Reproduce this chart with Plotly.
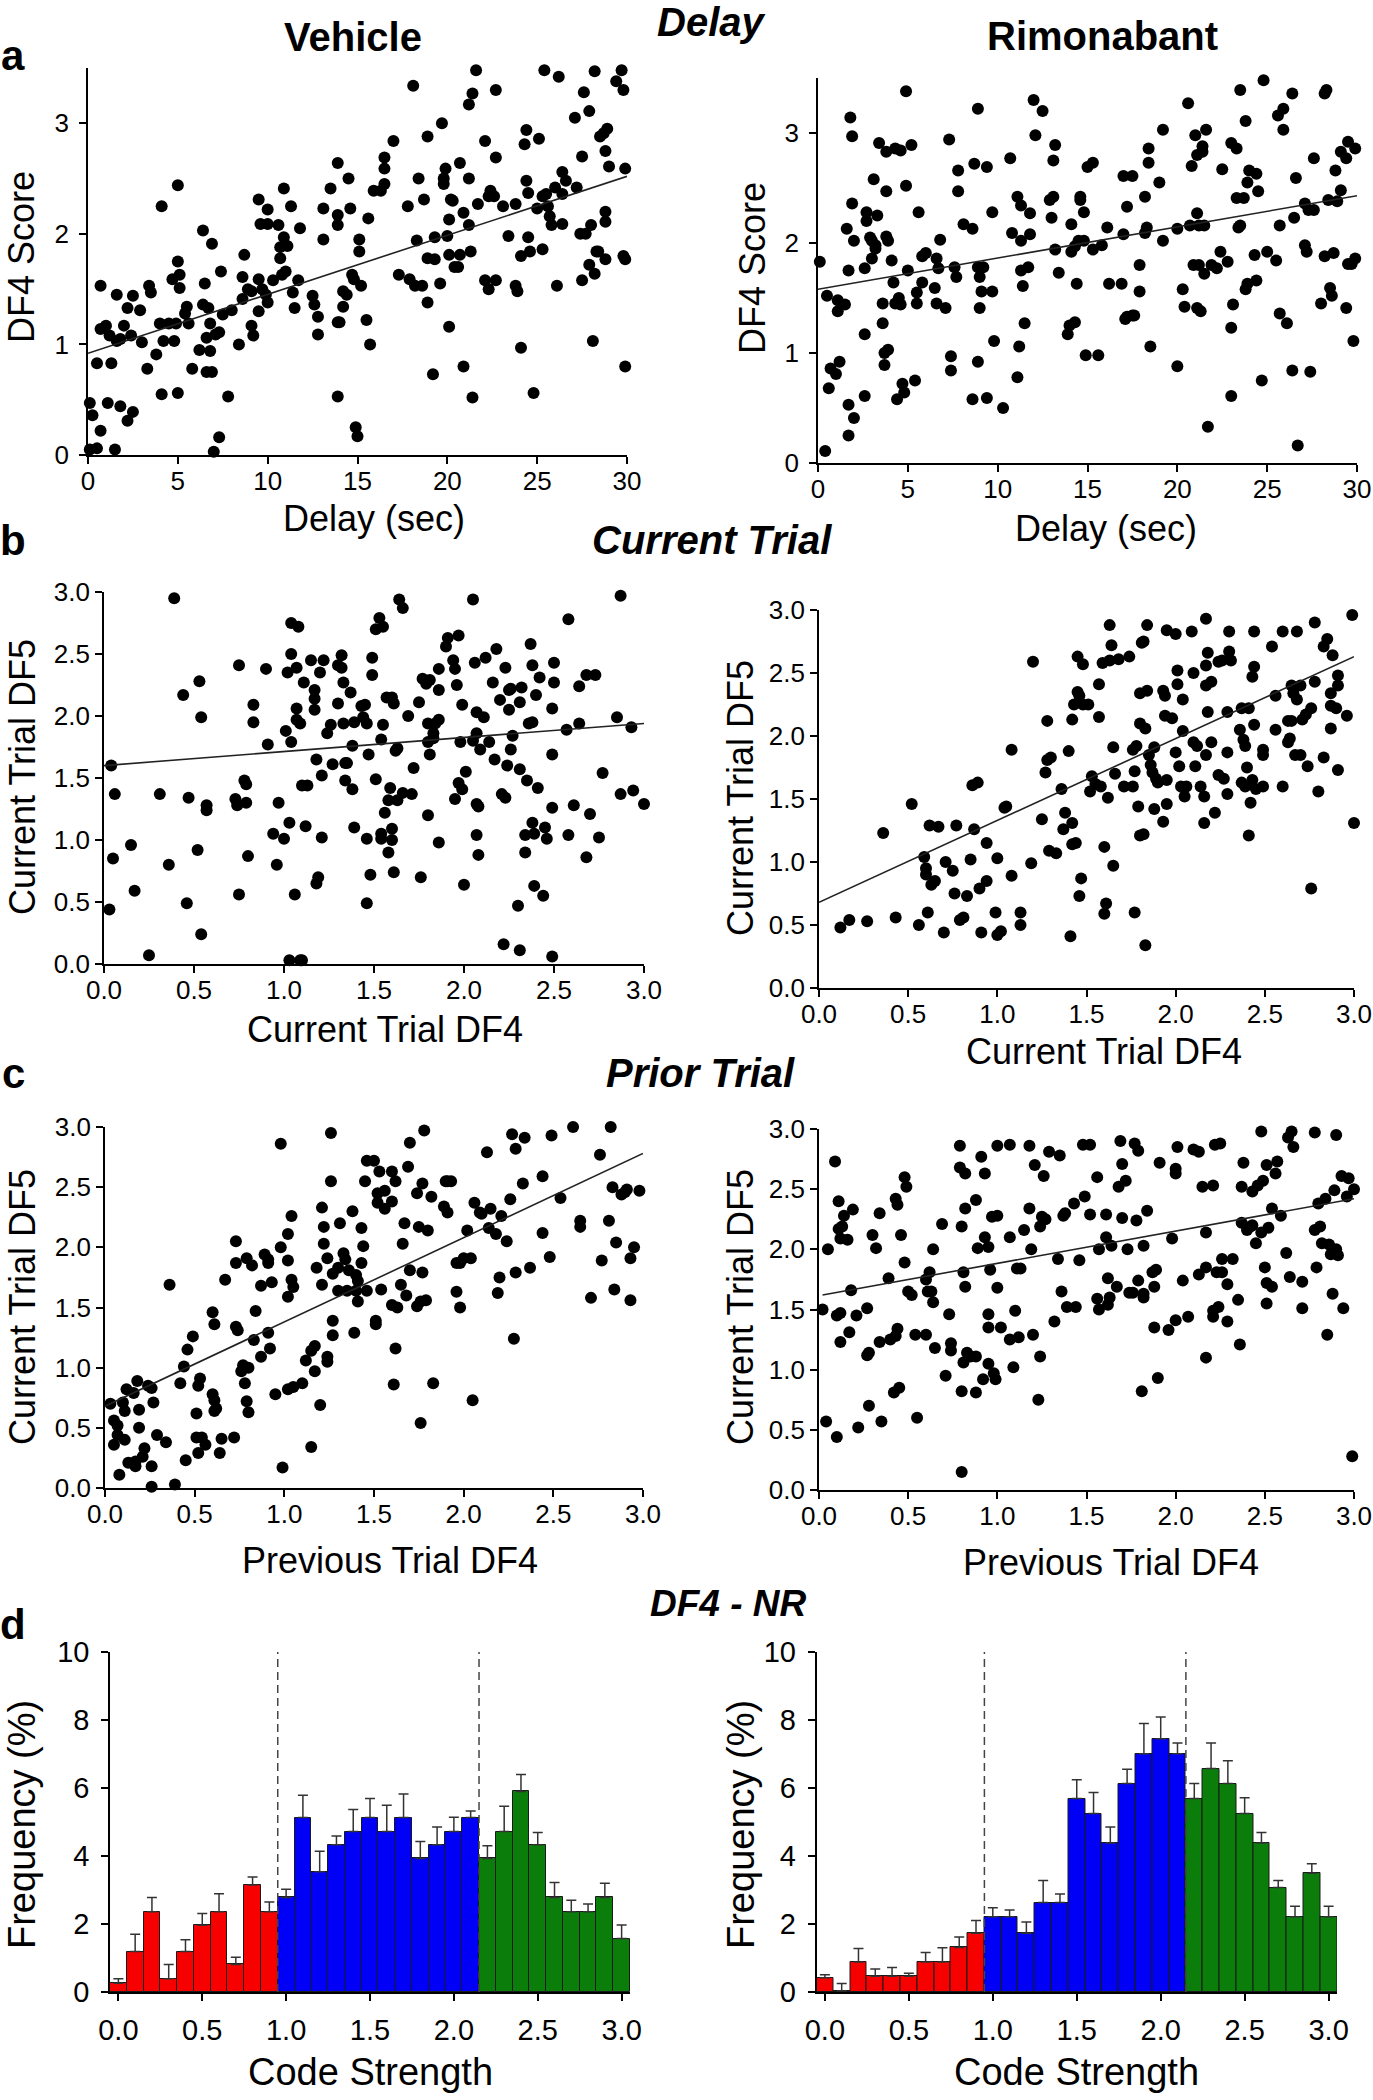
import plotly.graph_objects as go

# ---------------- data ----------------
a_vehicle = [(0.1,0.47),(0.25,0.36),(0.1,0.05),(0.5,0.06),(0.7,0.22),(0.5,0.83),(0.7,1.53),(0.7,1.14),(1.0,1.17),(1.1,0.47),(1.2,1.08),(1.3,0.83),(1.5,0.05),(1.6,1.45),(1.6,1.03),(1.8,1.05),(1.8,0.44),(2.0,1.17),(2.2,1.33),(2.2,0.31),(2.4,1.08),(2.5,1.44),(2.5,0.39),(2.9,1.31),(3.0,1.02),(3.3,0.78),(3.4,1.53),(3.5,1.47),(3.8,0.91),(4.0,1.19),(4.1,2.25),(4.1,0.55),(4.2,1.03),(4.5,1.19),(4.7,1.59),(4.8,1.03),(4.9,1.19),(5.0,2.44),(5.0,1.75),(5.0,0.56),(5.1,1.63),(5.1,1.51),(5.4,1.28),(5.5,1.34),(5.6,1.19),(5.8,0.78),(6.2,0.95),(6.4,2.03),(6.4,1.36),(6.5,1.55),(6.6,1.06),(6.6,0.75),(6.7,1.33),(6.8,1.19),(6.8,0.94),(6.9,1.91),(6.9,0.75),(7.0,0.03),(7.1,1.09),(7.3,1.11),(7.3,0.16),(7.4,1.66),(7.5,1.27),(7.8,0.53),(8.0,1.31),(8.4,1.0),(8.6,1.41),(8.6,1.61),(8.7,1.81),(8.9,1.5),(9.1,1.48),(9.1,1.17),(9.2,1.08),(9.5,2.31),(9.5,1.59),(9.5,1.30),(9.6,2.09),(9.7,1.5),(9.9,1.45),(10.0,2.22),(10.0,2.09),(10.0,1.38),(10.3,1.58),(10.6,2.08),(10.7,1.88),(10.7,1.78),(10.8,1.63),(10.9,2.41),(10.9,1.97),(11.0,1.66),(11.1,1.89),(11.3,2.25),(11.4,1.47),(11.5,1.33),(11.7,1.58),(11.8,2.05),(12.5,1.44),(12.6,1.36),(12.8,1.09),(12.8,1.25),(13.1,2.23),(13.1,1.95),(13.5,2.41),(13.9,2.64),(13.9,2.17),(13.9,2.08),(13.9,1.20),(13.9,0.53),(14.0,1.20),(14.2,1.34),(14.2,1.48),(14.4,1.45),(14.5,2.5),(14.6,2.23),(14.7,1.63),(14.8,1.59),(14.9,0.25),(15.0,0.17),(15.1,1.95),(15.1,1.84),(15.2,1.53),(15.5,1.22),(15.6,2.14),(15.7,1.0),(15.9,2.39),(16.3,2.39),(16.5,2.59),(16.5,2.69),(16.5,2.45),(17.0,2.84),(17.3,1.63),(17.8,2.25),(17.9,1.59),(18.1,3.34),(18.2,1.53),(18.3,1.94),(18.4,2.5),(18.6,1.53),(18.7,2.31),(18.9,2.88),(18.9,1.38),(18.9,1.78),(19.2,0.73),(19.3,1.77),(19.3,1.97),(19.6,1.55),(19.7,3.0),(19.8,2.5),(19.8,2.45),(19.9,2.59),(20.0,1.98),(20.1,1.81),(20.1,2.13),(20.1,1.16),(20.2,2.31),(20.3,2.30),(20.4,1.70),(20.6,1.70),(20.7,1.81),(20.7,2.64),(20.9,2.19),(20.9,0.80),(21.2,3.17),(21.2,2.5),(21.2,2.08),(21.3,1.84),(21.4,0.52),(21.4,3.27),(21.6,3.48),(21.7,2.27),(22.1,2.84),(22.1,1.58),(22.3,1.50),(22.3,2.34),(22.4,2.39),(22.6,2.34),(22.7,3.30),(22.7,2.69),(22.7,1.58),(23.1,2.25),(23.4,1.98),(23.8,2.27),(23.8,1.53),(23.9,1.48),(24.1,0.97),(24.1,1.80),(24.3,2.81),(24.4,2.48),(24.4,2.94),(24.5,2.37),(24.5,1.97),(24.6,1.84),(24.8,0.56),(25.0,2.23),(25.1,2.86),(25.3,2.34),(25.3,1.86),(25.4,3.48),(25.5,2.36),(25.6,2.25),(25.7,2.16),(25.8,2.08),(26.0,2.42),(26.1,1.53),(26.2,3.42),(26.4,2.56),(26.4,2.36),(26.4,2.09),(26.6,2.48),(27.1,3.05),(27.2,2.42),(27.4,2.0),(27.5,2.70),(27.5,1.58),(27.6,3.28),(27.7,2.0),(27.9,1.72),(27.9,3.11),(28.0,2.08),(28.1,1.03),(28.2,1.64),(28.2,3.47),(28.3,1.84),(28.4,1.84),(28.5,2.88),(28.7,2.91),(28.8,2.2),(28.8,2.11),(28.8,2.75),(28.8,1.77),(28.9,2.95),(29.0,2.61),(29.4,3.38),(29.7,3.48),(29.8,3.30),(29.8,1.80),(29.9,1.77),(29.9,2.59),(29.9,0.80)]

a_rimonabant = [(0.1,1.83),(0.4,0.11),(0.5,1.52),(0.6,0.68),(0.7,0.86),(1.0,0.81),(1.1,1.48),(1.1,1.38),(1.2,0.92),(1.5,1.44),(1.6,2.13),(1.7,1.75),(1.7,0.53),(1.7,0.25),(1.8,3.14),(1.9,2.36),(1.9,2.97),(2.0,0.41),(2.0,2.02),(2.6,1.17),(2.6,0.61),(2.6,1.77),(2.7,2.28),(2.7,2.2),(2.9,2.05),(3.0,2.02),(3.0,1.86),(3.1,2.58),(3.2,1.98),(3.2,1.95),(3.3,2.25),(3.4,2.91),(3.6,1.45),(3.6,1.27),(3.7,1.0),(3.7,0.89),(3.8,2.83),(3.8,2.06),(3.8,2.47),(3.9,2.02),(3.9,1.03),(4.1,1.84),(4.2,1.64),(4.3,2.86),(4.3,1.45),(4.4,0.58),(4.5,1.5),(4.6,2.84),(4.6,1.44),(4.7,0.72),(4.8,0.64),(4.9,3.38),(4.9,2.52),(5.0,1.75),(5.2,2.89),(5.4,0.75),(5.5,1.45),(5.5,1.55),(5.6,2.28),(5.8,1.64),(5.8,1.88),(6.0,1.91),(6.5,1.59),(6.6,1.86),(6.6,1.45),(6.7,1.77),(6.8,2.03),(7.1,1.41),(7.3,2.94),(7.4,0.97),(7.4,0.84),(7.6,1.78),(7.7,1.69),(7.8,2.47),(7.8,2.66),(8.1,2.17),(8.6,0.58),(8.6,2.13),(8.7,2.72),(8.9,1.78),(8.9,3.22),(8.9,0.92),(9.0,1.41),(9.0,1.69),(9.1,1.56),(9.2,1.78),(9.4,2.69),(9.4,0.59),(9.7,2.28),(9.7,1.56),(9.8,1.11),(10.3,0.5),(10.7,2.77),(10.8,2.09),(11.1,2.42),(11.1,0.78),(11.2,1.06),(11.3,2.34),(11.3,2.02),(11.3,1.75),(11.4,1.61),(11.5,1.27),(11.7,1.78),(11.8,2.27),(11.8,2.08),(12.0,3.30),(12.1,2.98),(12.5,3.2),(12.9,2.39),(13.0,2.23),(13.1,2.42),(13.1,2.75),(13.2,2.89),(13.2,1.94),(13.4,1.73),(13.9,1.17),(14.0,1.25),(14.1,2.17),(14.1,1.92),(14.3,1.97),(14.3,1.28),(14.4,1.63),(14.5,2.02),(14.6,2.39),(14.6,2.42),(14.8,2.28),(14.8,2.02),(14.9,0.98),(15.0,2.69),(15.3,2.73),(15.3,1.94),(15.6,0.98),(15.8,1.98),(16.1,2.14),(16.2,1.63),(16.9,1.63),(17.0,2.08),(17.0,2.61),(17.1,1.31),(17.2,1.33),(17.2,2.33),(17.5,1.34),(17.5,2.61),(17.6,1.34),(17.9,1.56),(17.9,1.80),(18.2,2.42),(18.2,2.09),(18.3,2.14),(18.4,2.73),(18.4,2.86),(18.5,1.06),(19.0,2.55),(19.2,3.03),(19.2,2.02),(20.0,0.88),(20.0,2.13),(20.3,1.58),(20.4,1.42),(20.6,3.27),(20.7,2.16),(20.8,2.70),(20.9,1.80),(21.0,2.98),(21.1,1.41),(21.1,2.80),(21.1,2.27),(21.2,2.16),(21.2,1.80),(21.3,1.38),(21.4,2.88),(21.4,2.83),(21.5,2.16),(21.5,1.72),(21.6,3.03),(21.7,0.33),(21.9,1.80),(22.2,1.77),(22.4,1.92),(22.5,2.67),(22.8,1.83),(23.0,0.61),(23.0,1.23),(23.0,2.91),(23.1,1.44),(23.3,2.86),(23.3,2.41),(23.4,2.14),(23.5,2.16),(23.5,3.39),(23.7,2.41),(23.8,1.58),(23.8,3.11),(23.9,1.63),(23.9,2.55),(24.0,2.66),(24.3,1.89),(24.4,2.63),(24.4,1.66),(24.5,2.47),(24.7,0.75),(24.8,3.48),(25.0,1.92),(25.5,1.84),(25.6,3.16),(25.7,1.36),(25.7,2.16),(25.9,3.22),(25.9,3.03),(26.1,1.27),(26.4,0.84),(26.4,3.36),(26.5,2.23),(26.6,2.59),(26.7,0.16),(27.1,2.36),(27.1,1.98),(27.2,1.92),(27.3,2.30),(27.4,0.83),(27.6,2.30),(27.6,2.77),(28.0,1.45),(28.2,1.88),(28.2,3.36),(28.3,3.39),(28.4,2.39),(28.5,1.59),(28.6,1.52),(28.7,1.91),(28.8,2.66),(28.9,2.38),(29.1,2.48),(29.1,2.83),(29.4,2.77),(29.4,1.41),(29.5,2.92),(29.5,1.81),(29.7,1.81),(29.8,1.11),(29.9,2.86),(29.9,1.86)]

b_vehicle = [(0.03,0.44),(0.04,1.60),(0.05,0.85),(0.06,1.37),(0.15,0.96),(0.17,0.59),(0.25,0.07),(0.31,1.37),(0.36,0.80),(0.39,2.95),(0.44,2.17),(0.46,0.49),(0.47,1.34),(0.52,0.92),(0.53,2.28),(0.54,1.99),(0.54,0.24),(0.57,1.28),(0.57,1.24),(0.73,1.33),(0.74,1.28),(0.75,0.56),(0.75,2.41),(0.78,1.48),(0.79,1.45),(0.79,1.30),(0.80,0.87),(0.83,1.95),(0.83,2.09),(0.90,2.38),(0.91,1.77),(0.94,1.05),(0.96,0.80),(0.97,1.30),(1.00,1.01),(1.01,1.88),(1.02,2.35),(1.03,1.14),(1.03,0.03),(1.04,2.50),(1.04,1.79),(1.04,2.75),(1.06,0.56),(1.07,2.06),(1.07,2.39),(1.07,1.97),(1.08,2.72),(1.09,0.03),(1.09,1.94),(1.10,0.03),(1.10,1.44),(1.11,2.27),(1.12,1.11),(1.13,1.44),(1.15,2.45),(1.17,2.21),(1.17,2.14),(1.17,2.05),(1.18,1.65),(1.18,0.65),(1.19,0.70),(1.20,2.35),(1.21,1.52),(1.21,1.02),(1.22,2.45),(1.24,1.86),(1.26,1.93),(1.27,1.61),(1.30,2.41),(1.30,2.10),(1.32,2.49),(1.32,2.39),(1.33,2.27),(1.33,1.94),(1.34,1.62),(1.34,1.48),(1.35,1.62),(1.37,2.19),(1.38,1.41),(1.38,1.76),(1.39,1.95),(1.39,1.10),(1.43,2.08),(1.44,1.99),(1.45,2.09),(1.46,1.01),(1.46,0.49),(1.46,1.94),(1.47,1.69),(1.48,0.72),(1.49,2.47),(1.49,2.33),(1.51,1.49),(1.51,2.70),(1.53,2.79),(1.54,1.05),(1.54,1.01),(1.54,1.81),(1.55,1.93),(1.55,2.72),(1.56,1.22),(1.57,2.15),(1.58,1.32),(1.58,0.90),(1.59,1.42),(1.60,1.09),(1.60,1.00),(1.60,2.15),(1.61,0.74),(1.61,2.10),(1.62,1.72),(1.63,1.32),(1.63,1.74),(1.64,2.94),(1.66,2.87),(1.66,1.38),(1.69,2.00),(1.71,1.37),(1.72,1.58),(1.75,2.11),(1.76,0.70),(1.77,2.30),(1.79,2.26),(1.80,1.79),(1.80,1.20),(1.80,1.94),(1.81,1.69),(1.81,2.29),(1.83,1.82),(1.83,1.86),(1.84,1.94),(1.86,2.38),(1.86,2.21),(1.86,0.98),(1.86,1.97),(1.90,2.56),(1.91,2.63),(1.94,2.45),(1.95,1.33),(1.95,2.38),(1.96,2.25),(1.97,2.65),(1.97,1.46),(1.98,1.79),(1.99,1.41),(1.99,2.09),(2.00,0.64),(2.01,1.55),(2.05,2.94),(2.05,1.80),(2.06,2.43),(2.07,2.03),(2.07,1.86),(2.07,1.29),(2.08,0.88),(2.08,1.27),(2.07,1.04),(2.09,1.73),(2.11,1.99),(2.12,2.47),(2.14,1.79),(2.16,2.27),(2.17,1.65),(2.18,2.54),(2.20,2.13),(2.21,1.37),(2.22,0.16),(2.23,1.34),(2.23,2.39),(2.24,1.60),(2.25,2.21),(2.25,2.05),(2.26,2.22),(2.26,1.73),(2.27,1.84),(2.30,0.47),(2.31,2.11),(2.31,0.11),(2.31,1.57),(2.32,2.23),(2.34,0.90),(2.34,1.04),(2.35,1.48),(2.36,1.94),(2.37,2.58),(2.38,1.14),(2.38,2.41),(2.38,1.95),(2.39,0.63),(2.39,1.05),(2.40,2.17),(2.41,1.42),(2.42,2.31),(2.44,0.55),(2.45,1.10),(2.46,1.01),(2.49,2.06),(2.49,1.69),(2.49,0.06),(2.49,1.26),(2.50,2.27),(2.50,2.43),(2.57,1.89),(2.58,2.78),(2.58,1.04),(2.61,1.28),(2.64,1.94),(2.64,2.24),(2.68,0.86),(2.68,2.33),(2.70,1.21),(2.73,2.33),(2.75,1.02),(2.77,1.54),(2.85,1.99),(2.87,2.97),(2.87,1.37),(2.93,1.91),(2.94,1.40),(3.00,1.29)]

b_rimonabant = [(0.12,0.48),(0.17,0.54),(0.27,0.53),(0.36,1.23),(0.43,0.56),(0.52,1.46),(0.56,0.50),(0.59,1.04),(0.60,0.90),(0.60,0.95),(0.61,0.60),(0.62,1.29),(0.63,0.82),(0.65,0.85),(0.67,1.28),(0.70,0.44),(0.71,1.00),(0.75,0.93),(0.76,0.75),(0.77,1.29),(0.79,0.54),(0.81,0.56),(0.83,0.73),(0.85,1.02),(0.86,1.61),(0.87,1.26),(0.89,1.63),(0.90,0.79),(0.91,0.44),(0.94,0.85),(0.94,1.15),(0.99,0.60),(1.00,1.03),(1.00,0.42),(1.02,0.45),(1.04,1.43),(1.05,1.44),(1.08,1.89),(1.08,0.89),(1.13,0.60),(1.13,0.50),(1.19,0.99),(1.20,2.59),(1.25,1.34),(1.27,1.71),(1.28,1.81),(1.28,2.12),(1.29,1.09),(1.30,1.83),(1.33,1.07),(1.36,1.58),(1.37,1.26),(1.38,1.39),(1.40,1.88),(1.41,0.41),(1.42,1.31),(1.42,1.14),(1.42,2.13),(1.43,2.25),(1.44,1.15),(1.45,2.35),(1.45,2.63),(1.46,0.73),(1.46,2.32),(1.47,0.87),(1.48,2.57),(1.48,2.25),(1.51,2.25),(1.52,1.56),(1.53,1.68),(1.55,1.62),(1.57,2.41),(1.57,2.15),(1.58,1.60),(1.59,2.58),(1.60,0.59),(1.60,1.12),(1.61,0.67),(1.62,1.51),(1.63,2.88),(1.63,2.60),(1.64,2.72),(1.65,1.91),(1.65,0.97),(1.66,1.70),(1.68,2.61),(1.71,1.60),(1.74,2.63),(1.76,1.89),(1.76,1.60),(1.77,0.60),(1.77,1.72),(1.78,1.92),(1.79,1.44),(1.80,2.34),(1.80,2.10),(1.80,1.21),(1.81,2.74),(1.82,2.75),(1.82,1.22),(1.83,0.34),(1.83,2.06),(1.84,2.88),(1.84,2.36),(1.85,1.85),(1.86,1.77),(1.87,1.71),(1.88,1.91),(1.88,1.42),(1.89,1.66),(1.90,1.63),(1.93,1.32),(1.93,2.36),(1.94,2.32),(1.94,2.16),(1.95,2.84),(1.95,1.46),(1.95,1.65),(1.98,2.14),(2.00,2.81),(2.00,1.87),(2.01,2.52),(2.01,2.41),(2.02,1.76),(2.03,1.60),(2.04,2.29),(2.04,2.04),(2.05,1.52),(2.06,1.60),(2.09,2.83),(2.10,1.95),(2.10,2.50),(2.11,1.76),(2.12,1.92),(2.14,1.60),(2.16,1.31),(2.16,1.52),(2.17,2.93),(2.17,1.85),(2.17,2.56),(2.17,2.40),(2.18,2.66),(2.18,2.19),(2.20,2.43),(2.20,1.95),(2.22,1.39),(2.24,1.69),(2.24,2.59),(2.26,2.60),(2.27,1.66),(2.29,2.19),(2.29,1.54),(2.29,1.87),(2.30,2.83),(2.30,2.67),(2.31,2.60),(2.36,2.05),(2.37,1.63),(2.37,2.22),(2.38,1.97),(2.39,1.60),(2.39,1.92),(2.40,1.75),(2.41,2.22),(2.41,1.21),(2.42,1.47),(2.43,1.65),(2.43,2.47),(2.44,2.55),(2.44,2.09),(2.44,2.83),(2.45,1.58),(2.49,1.89),(2.49,1.85),(2.49,1.60),(2.54,2.71),(2.56,2.32),(2.56,2.05),(2.60,2.83),(2.60,1.60),(2.63,1.95),(2.63,2.12),(2.64,1.98),(2.65,2.12),(2.65,2.40),(2.66,2.34),(2.67,1.85),(2.68,2.83),(2.68,2.29),(2.70,1.85),(2.70,2.40),(2.71,2.13),(2.73,2.17),(2.74,1.76),(2.76,0.79),(2.76,2.22),(2.78,2.43),(2.78,2.90),(2.80,1.56),(2.83,2.71),(2.83,1.83),(2.85,2.77),(2.87,2.34),(2.87,2.06),(2.87,2.24),(2.88,2.64),(2.90,2.22),(2.91,2.48),(2.91,1.73),(2.91,2.40),(2.96,2.16),(2.99,2.96),(3.00,1.31)]

c_vehicle = [(0.03,0.70),(0.05,0.56),(0.05,0.36),(0.07,0.52),(0.07,0.44),(0.08,0.11),(0.10,0.71),(0.11,0.64),(0.11,0.40),(0.12,0.82),(0.13,0.21),(0.16,0.79),(0.17,0.22),(0.17,0.18),(0.18,0.89),(0.19,0.65),(0.19,0.50),(0.21,0.26),(0.22,0.33),(0.24,0.85),(0.26,0.83),(0.26,0.18),(0.26,0.01),(0.27,0.71),(0.29,0.44),(0.34,0.38),(0.36,1.69),(0.39,0.03),(0.42,0.87),(0.44,1.01),(0.45,0.23),(0.46,1.15),(0.49,1.26),(0.51,0.42),(0.51,0.62),(0.52,0.85),(0.52,0.29),(0.53,0.91),(0.54,0.42),(0.56,0.36),(0.60,1.46),(0.60,0.78),(0.61,0.73),(0.61,1.36),(0.61,0.64),(0.62,0.66),(0.64,0.29),(0.65,0.41),(0.67,1.73),(0.72,0.42),(0.73,2.05),(0.73,1.87),(0.73,1.34),(0.74,1.31),(0.76,0.97),(0.77,1.02),(0.78,0.87),(0.79,1.91),(0.79,0.72),(0.80,1.00),(0.80,0.63),(0.82,1.85),(0.83,1.23),(0.84,1.47),(0.87,1.68),(0.87,1.09),(0.89,1.94),(0.91,1.87),(0.91,1.90),(0.91,1.29),(0.92,1.16),(0.93,1.71),(0.95,0.78),(0.98,2.00),(0.98,2.86),(0.99,0.17),(1.02,0.82),(1.02,1.59),(1.02,1.89),(1.02,2.11),(1.04,1.73),(1.04,2.26),(1.05,1.67),(1.05,0.84),(1.10,0.87),(1.12,1.06),(1.15,0.34),(1.15,1.14),(1.17,0.97),(1.17,1.18),(1.18,1.83),(1.20,0.69),(1.21,1.69),(1.21,2.33),(1.22,2.17),(1.22,2.03),(1.24,1.05),(1.24,1.91),(1.24,1.09),(1.26,2.95),(1.26,2.55),(1.27,1.27),(1.27,1.39),(1.27,1.78),(1.30,1.83),(1.30,1.64),(1.31,2.20),(1.33,1.95),(1.34,1.90),(1.35,1.64),(1.36,1.81),(1.38,2.30),(1.39,1.29),(1.40,1.77),(1.40,1.64),(1.41,1.55),(1.41,1.72),(1.43,2.16),(1.43,1.87),(1.44,2.01),(1.45,2.55),(1.46,2.72),(1.46,1.64),(1.50,2.72),(1.51,1.36),(1.51,1.39),(1.52,2.45),(1.52,2.37),(1.53,2.63),(1.54,1.65),(1.56,2.47),(1.56,2.32),(1.60,2.63),(1.60,1.52),(1.60,2.38),(1.61,0.86),(1.62,1.16),(1.62,2.55),(1.63,1.50),(1.65,1.69),(1.66,2.03),(1.67,2.20),(1.68,1.60),(1.69,2.67),(1.70,2.87),(1.70,1.81),(1.74,2.45),(1.74,1.51),(1.75,2.17),(1.76,0.54),(1.76,1.55),(1.77,2.53),(1.77,1.79),(1.78,2.97),(1.79,1.56),(1.80,2.14),(1.82,2.42),(1.83,0.87),(1.89,2.34),(1.90,2.55),(1.91,2.29),(1.91,2.55),(1.93,2.55),(1.96,1.87),(1.96,1.63),(1.98,1.87),(1.98,1.50),(2.00,1.91),(2.02,2.14),(2.04,1.91),(2.05,0.73),(2.06,2.37),(2.09,2.29),(2.10,2.28),(2.13,2.79),(2.14,2.16),(2.15,2.32),(2.18,2.11),(2.19,1.62),(2.20,1.75),(2.21,2.26),(2.24,2.05),(2.26,2.40),(2.27,2.94),(2.28,1.24),(2.29,1.79),(2.29,2.82),(2.33,2.53),(2.34,2.91),(2.37,1.83),(2.44,2.12),(2.44,2.59),(2.48,1.92),(2.49,2.93),(2.54,2.41),(2.61,3.00),(2.65,2.22),(2.65,2.17),(2.71,1.58),(2.76,2.77),(2.77,1.89),(2.81,2.22),(2.82,3.00),(2.83,2.50),(2.84,1.65),(2.85,2.04),(2.88,2.44),(2.90,2.46),(2.91,2.48),(2.93,1.91),(2.93,1.56),(2.95,2.00),(2.98,2.47)]

c_rimonabant = [(0.02,1.50),(0.04,0.57),(0.05,2.00),(0.09,2.73),(0.10,1.45),(0.10,0.44),(0.11,2.40),(0.11,2.17),(0.12,1.23),(0.12,1.47),(0.12,2.09),(0.13,2.19),(0.14,2.28),(0.16,2.08),(0.17,1.31),(0.18,1.66),(0.19,2.33),(0.21,1.45),(0.22,0.52),(0.27,1.51),(0.27,1.12),(0.28,1.14),(0.28,0.70),(0.30,2.12),(0.32,2.01),(0.34,1.23),(0.34,2.30),(0.35,0.57),(0.39,1.76),(0.40,1.25),(0.42,0.81),(0.43,1.28),(0.43,2.42),(0.44,2.37),(0.44,1.34),(0.45,0.85),(0.46,2.12),(0.48,1.89),(0.48,2.60),(0.49,2.52),(0.50,1.65),(0.52,1.62),(0.54,1.29),(0.55,0.60),(0.60,1.75),(0.60,1.29),(0.61,1.65),(0.62,1.81),(0.63,1.65),(0.64,2.00),(0.64,1.56),(0.65,1.18),(0.69,2.21),(0.71,0.95),(0.73,1.46),(0.74,1.22),(0.74,1.16),(0.79,2.86),(0.79,2.68),(0.80,2.19),(0.80,0.82),(0.80,0.15),(0.81,1.81),(0.81,1.06),(0.82,2.63),(0.82,2.34),(0.82,1.69),(0.83,1.14),(0.85,1.11),(0.88,2.41),(0.88,0.81),(0.88,1.11),(0.89,2.01),(0.91,2.77),(0.92,0.92),(0.93,2.10),(0.93,2.63),(0.95,2.02),(0.95,1.05),(0.95,1.46),(0.95,1.35),(0.96,1.83),(0.97,2.27),(0.98,0.97),(0.99,0.92),(1.00,2.86),(1.00,1.68),(1.00,2.28),(1.02,1.35),(1.07,2.87),(1.07,2.10),(1.07,1.25),(1.09,1.02),(1.10,1.49),(1.11,1.84),(1.12,1.27),(1.13,1.84),(1.15,2.16),(1.18,2.86),(1.18,2.34),(1.19,2.00),(1.20,1.29),(1.21,2.70),(1.23,0.75),(1.24,2.19),(1.24,1.11),(1.25,2.27),(1.26,2.61),(1.27,2.25),(1.29,2.81),(1.32,1.40),(1.34,1.92),(1.35,2.78),(1.36,1.65),(1.37,2.28),(1.38,2.30),(1.39,1.52),(1.43,2.38),(1.44,1.52),(1.46,1.91),(1.48,2.87),(1.49,2.44),(1.52,2.87),(1.52,2.29),(1.56,2.60),(1.56,1.59),(1.57,1.50),(1.57,2.00),(1.61,2.29),(1.61,2.10),(1.62,1.76),(1.62,1.54),(1.63,1.60),(1.64,2.03),(1.67,1.69),(1.68,2.52),(1.69,2.90),(1.70,2.71),(1.70,2.26),(1.72,2.57),(1.73,2.00),(1.74,1.64),(1.76,1.64),(1.77,2.88),(1.78,2.24),(1.79,1.74),(1.79,2.82),(1.81,0.82),(1.82,1.60),(1.82,1.63),(1.82,2.03),(1.84,2.32),(1.87,1.81),(1.88,1.35),(1.88,1.69),(1.89,1.83),(1.90,0.93),(1.91,2.72),(1.96,1.33),(1.98,2.09),(2.00,2.67),(2.00,2.63),(2.00,1.41),(2.01,2.85),(2.04,1.74),(2.07,1.44),(2.10,2.83),(2.13,2.81),(2.13,1.79),(2.15,2.52),(2.17,1.85),(2.17,2.14),(2.17,1.10),(2.21,2.53),(2.21,1.49),(2.21,1.44),(2.22,2.87),(2.23,1.81),(2.24,1.52),(2.25,2.88),(2.26,1.81),(2.26,1.92),(2.29,1.71),(2.29,1.40),(2.32,1.92),(2.35,1.58),(2.36,1.21),(2.37,2.52),(2.37,2.22),(2.38,2.72),(2.40,2.16),(2.42,2.19),(2.43,2.48),(2.43,2.20),(2.45,2.05),(2.46,2.53),(2.48,2.98),(2.48,2.14),(2.49,2.57),(2.50,1.85),(2.51,2.70),(2.51,1.72),(2.51,1.55),(2.52,2.18),(2.54,2.34),(2.54,1.69),(2.56,2.63),(2.57,2.73),(2.59,2.28),(2.62,1.97),(2.63,2.93),(2.64,1.77),(2.65,2.98),(2.66,2.85),(2.71,1.73),(2.71,1.51),(2.78,2.16),(2.78,2.97),(2.79,1.85),(2.80,2.38),(2.81,2.19),(2.82,2.05),(2.84,2.42),(2.85,1.29),(2.86,2.04),(2.87,1.96),(2.88,1.63),(2.89,2.49),(2.90,2.00),(2.90,2.95),(2.91,1.95),(2.93,2.61),(2.94,1.51),(2.96,2.44),(2.97,2.59),(2.99,0.28),(3.00,2.50)]

# regression lines: (x_start, y_start, x_end, y_end)
fit_a_vehicle = (0.0, 0.92, 30.0, 2.52)
fit_a_rimonabant = (0.0, 1.58, 30.0, 2.43)
fit_b_vehicle = (0.0, 1.60, 3.0, 1.94)
fit_b_rimonabant = (0.0, 0.68, 3.0, 2.63)
fit_c_vehicle = (0.0, 0.68, 3.0, 2.78)
fit_c_rimonabant = (0.02, 1.62, 3.0, 2.42)

# histograms
code_bins = [0.0,0.1,0.2,0.3,0.4,0.5,0.6,0.7,0.8,0.9,1.0,1.1,1.2,1.3,1.4,1.5,1.6,1.7,1.8,1.9,2.0,2.1,2.2,2.3,2.4,2.5,2.6,2.7,2.8,2.9,3.0]
bin_group = ["low"]*10 + ["mid"]*12 + ["high"]*9
veh_freq = [0.26,1.19,2.36,0.39,1.19,1.96,2.36,0.81,3.15,2.36,2.78,5.13,3.54,4.33,4.72,5.13,4.72,5.13,3.93,4.33,4.72,5.13,3.93,4.72,5.90,4.33,2.78,2.36,2.36,2.78,1.57]
veh_err = [0.13,0.51,0.42,0.42,0.35,0.35,0.53,0.21,0.23,0.29,0.24,0.66,0.60,0.26,0.65,0.56,0.77,0.69,0.50,0.52,0.42,0.19,0.37,0.74,0.50,0.36,0.44,0.34,0.23,0.42,0.40]
rim_freq = [0.42,0.04,0.88,0.46,0.46,0.46,0.88,0.88,1.31,1.73,2.21,2.21,1.73,2.63,2.63,5.69,5.25,4.38,6.13,7.01,7.45,7.01,5.69,6.57,6.13,5.25,4.38,3.07,2.21,3.49,2.21]
rim_err = [0.09,0.21,0.40,0.22,0.26,0.09,0.28,0.42,0.31,0.37,0.27,0.20,0.33,0.65,0.25,0.55,0.62,0.47,0.42,0.89,0.64,0.31,0.44,0.75,0.67,0.46,0.31,0.21,0.31,0.28,0.31]
veh_bounds = [0.95, 2.15]
rim_bounds = [0.95, 2.15]

group_colors = {"low": "#f60000", "mid": "#0000f6", "high": "#0b7d0b"}

# ---------------- layout helpers ----------------
W, H = 1373, 2100
FONT = "Liberation Sans, Arial, sans-serif"

def dx(a, b):
    return [a / W, b / W]

def dy(top, bottom):
    return [1 - bottom / H, 1 - top / H]

def px(x):
    return x / W

def py(y):
    return 1 - y / H

fig = go.Figure()

panels = [
    (a_vehicle, fit_a_vehicle, (88, 627), (68, 455), [0, 30], [0, 3.5], [0, 5, 10, 15, 20, 25, 30], [0, 1, 2, 3], "d"),
    (a_rimonabant, fit_a_rimonabant, (818, 1357), (78, 463), [0, 30], [0, 3.5], [0, 5, 10, 15, 20, 25, 30], [0, 1, 2, 3], "d"),
    (b_vehicle, fit_b_vehicle, (104, 644), (592, 964), [0, 3], [0, 3], [0, 0.5, 1, 1.5, 2, 2.5, 3], [0, 0.5, 1, 1.5, 2, 2.5, 3], ".1f"),
    (b_rimonabant, fit_b_rimonabant, (819, 1354), (610, 988), [0, 3], [0, 3], [0, 0.5, 1, 1.5, 2, 2.5, 3], [0, 0.5, 1, 1.5, 2, 2.5, 3], ".1f"),
    (c_vehicle, fit_c_vehicle, (105, 643), (1127, 1488), [0, 3], [0, 3], [0, 0.5, 1, 1.5, 2, 2.5, 3], [0, 0.5, 1, 1.5, 2, 2.5, 3], ".1f"),
    (c_rimonabant, fit_c_rimonabant, (819, 1354), (1129, 1490), [0, 3], [0, 3], [0, 0.5, 1, 1.5, 2, 2.5, 3], [0, 0.5, 1, 1.5, 2, 2.5, 3], ".1f"),
]

axis_common = dict(
    showline=True, linecolor="black", linewidth=1.6,
    ticks="outside", ticklen=7, tickwidth=1.6, tickcolor="black",
    showgrid=False, zeroline=False, automargin=False,
    ticklabeloverflow="allow",
    tickfont=dict(family=FONT, size=26, color="black"),
)

layout_axes = {}
for i, (pts, fit, xd, ydm, xr, yr, xt, yt, fmt) in enumerate(panels, start=1):
    xs = [p[0] for p in pts]
    ys = [p[1] for p in pts]
    xa = "x" if i == 1 else f"x{i}"
    ya = "y" if i == 1 else f"y{i}"
    fig.add_trace(go.Scatter(
        x=xs, y=ys, mode="markers", xaxis=xa, yaxis=ya,
        marker=dict(color="black", size=12, line=dict(width=0)),
        cliponaxis=False, showlegend=False,
    ))
    fig.add_trace(go.Scatter(
        x=[fit[0], fit[2]], y=[fit[1], fit[3]], mode="lines", xaxis=xa, yaxis=ya,
        line=dict(color="#222222", width=1.6), showlegend=False, cliponaxis=False,
    ))
    xkey = "xaxis" if i == 1 else f"xaxis{i}"
    ykey = "yaxis" if i == 1 else f"yaxis{i}"
    layout_axes[xkey] = dict(axis_common, domain=dx(*xd), range=xr, anchor=ya,
                             tickvals=xt, tickformat=fmt, ticklabelstandoff=-5)
    layout_axes[ykey] = dict(axis_common, domain=dy(*ydm), range=yr, anchor=xa,
                             tickvals=yt, tickformat=fmt,
                             ticklabelstandoff=5 if fmt == "d" else 0)

# histograms
hists = [
    (veh_freq, veh_err, veh_bounds, (110, 630), 7),
    (rim_freq, rim_err, rim_bounds, (816.5, 1337), 8),
]
hist_tickfont = dict(family=FONT, size=29, color="black")
for freq, err, bounds, xd, i in hists:
    xa, ya = f"x{i}", f"y{i}"
    fig.add_trace(go.Bar(
        x=code_bins, y=freq, width=0.1, xaxis=xa, yaxis=ya,
        marker=dict(color=[group_colors[g] for g in bin_group],
                    line=dict(color="#1a1a1a", width=1)),
        error_y=dict(type="data", symmetric=False, array=err,
                     arrayminus=[0] * len(err), color="#333333",
                     thickness=1.5, width=5),
        showlegend=False,
    ))
    for b in bounds:
        fig.add_shape(type="line", xref=xa, yref=ya, x0=b, x1=b, y0=0, y1=10,
                      line=dict(color="#444444", width=1.5, dash="8px,5px"))
    layout_axes[f"xaxis{i}"] = dict(axis_common, domain=dx(*xd), range=[-0.05, 3.05], anchor=ya,
                                    tickvals=[0, 0.5, 1, 1.5, 2, 2.5, 3], tickformat=".1f",
                                    ticklabelstandoff=4, tickfont=hist_tickfont)
    layout_axes[f"yaxis{i}"] = dict(axis_common, domain=dy(1652, 1992), range=[0, 10], anchor=xa,
                                    tickvals=[0, 2, 4, 6, 8, 10], tickformat="d",
                                    ticklabelstandoff=6, tickfont=hist_tickfont)

# ---------------- text ----------------
ann = []

def text(x, y, s, size=36, angle=0):
    ann.append(dict(x=px(x), y=py(y), xref="paper", yref="paper", text=s,
                    showarrow=False, xanchor="center", yanchor="middle",
                    textangle=angle, font=dict(family=FONT, size=size, color="black")))

text(353, 37, "<b>Vehicle</b>", 40)
text(1102, 36, "<b>Rimonabant</b>", 40)
text(711, 22, "<b><i>Delay</i></b>", 40)
text(712, 540, "<b><i>Current Trial</i></b>", 40)
text(700, 1073, "<b><i>Prior Trial</i></b>", 40)
text(728, 1603, "<b><i>DF4 - NR</i></b>", 37)
text(13, 56, "<b>a</b>", 42)
text(13, 540, "<b>b</b>", 42)
text(13, 1073, "<b>c</b>", 42)
text(13, 1624, "<b>d</b>", 42)
text(374, 518, "Delay (sec)")
text(1106, 528, "Delay (sec)")
text(21, 257, "DF4 Score", angle=-90)
text(752, 268, "DF4 Score", angle=-90)
text(385, 1029, "Current Trial DF4")
text(1104, 1051, "Current Trial DF4")
text(22, 777, "Current Trial DF5", angle=-90)
text(740, 798, "Current Trial DF5", angle=-90)
text(390, 1560, "Previous Trial DF4")
text(1111, 1562, "Previous Trial DF4")
text(22, 1307, "Current Trial DF5", angle=-90)
text(740, 1307, "Current Trial DF5", angle=-90)
text(370, 2072, "Code Strength", 38)
text(1076, 2072, "Code Strength", 38)
text(22, 1825, "Frequency (%)", 38, angle=-90)
text(741, 1825, "Frequency (%)", 38, angle=-90)

fig.update_layout(
    width=W, height=H, autosize=False,
    margin=dict(l=0, r=0, t=0, b=0, pad=0, autoexpand=False),
    paper_bgcolor="white", plot_bgcolor="white",
    bargap=0, annotations=ann,
    font=dict(family=FONT, color="black"),
    **layout_axes,
)

fig.write_html(
    "out.html",
    config={"displayModeBar": False},
    post_script="document.body.style.margin='0px';document.body.style.padding='0px';",
)
